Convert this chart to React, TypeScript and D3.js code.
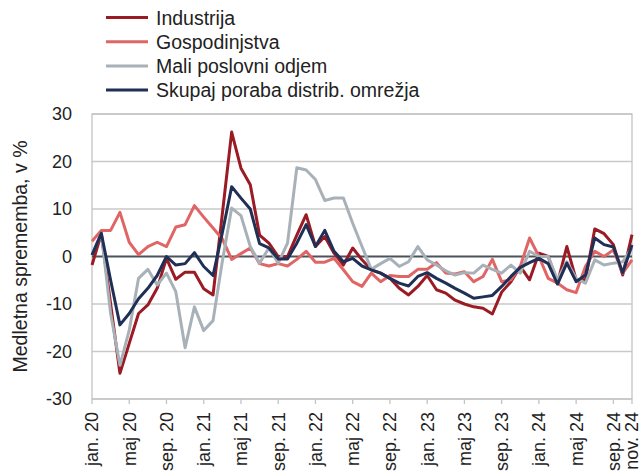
import React from 'react';
import * as d3 from 'd3';

// categories: monthly, jan 2020 .. nov 2024
const monthNames = ['jan.', 'feb.', 'mar.', 'apr.', 'maj', 'jun.', 'jul.', 'avg.', 'sep.', 'okt.', 'nov.', 'dec.'];
const years = ['20', '21', '22', '23', '24'];
const categories = years
  .flatMap(y => monthNames.map(m => `${m} ${y}`))
  .slice(0, 59);

const yTicks = [-30, -20, -10, 0, 10, 20, 30];

const seriesNames = ['Industrija', 'Gospodinjstva', 'Mali poslovni odjem', 'Skupaj poraba distrib. omrežja'];

const industrija = [
  -1.8, 4.8, -10, -24.6, -18.3, -12, -10.2, -6.7, -0.4, -4.8,
  -3.3, -3.3, -6.8, -8.1, 9, 26.2, 18.6, 15.1, 4.5, 2.8,
  0, 0, 4.5, 8.8, 2.1, 4.2, 0.7, -1.8, 1.8, -0.7,
  -2.8, -3.5, -4.6, -6.7, -8.1, -6.3, -4.0, -7.0, -7.7, -9.2,
  -10.0, -10.6, -10.9, -12.1, -7.5, -5.3, -2.1, -4.9, 0.7, 0,
  -5.6, 2.1, -4.9, -4.9, 5.8, 4.8, 2.5, -3.9, 4.6,
];

const gospodinjstva = [
  3.2, 5.5, 5.5, 9.3, 3.0, 0.4, 2.1, 3.0, 2.1, 6.2,
  6.7, 10.7, 8.3, 6.0, 3.7, -0.6, 0.6, 1.8, -1.5, -2.0,
  -1.5, -2.0, -0.6, 1.1, -1.2, -1.2, -0.4, -2.8, -5.3, -6.3,
  -3.5, -5.3, -4.0, -4.2, -4.2, -2.7, -2.7, -1.3, -3.5, -3.7,
  -3.2, -5.3, -4.2, -0.6, -5.3, -4.9, -2.1, 3.9, 0, -4.6,
  -5.6, -7.0, -7.6, -2.1, 1.1, 0, 1.4, -3.5, -0.7,
];

const maliPoslovni = [
  0.5, 4.9, -12, -22.9, -15.5, -4.6, -2.7, -6.0, -3.5, -7.4,
  -19.2, -10.6, -15.6, -13.5, -1, 10.2, 8.6, 2.1, -1.4, 1.8,
  -1.4, 2.8, 18.7, 18.2, 16.2, 11.8, 12.3, 12.3, 7.0, 2.1,
  -2.7, -1.5, -0.4, -2.1, -1.1, 2.1, -0.7, -1.8, -3.0, -3.9,
  -3.4, -3.5, -1.8, -2.7, -3.5, -1.8, -3.5, 1.1, 0, 0,
  -4.9, -1.1, -4.6, -5.6, -0.7, -1.8, -1.4, -1.1, 1.8,
];

const skupaj = [
  0.3, 4.9, -5, -14.4, -12.0, -8.9, -6.7, -4.0, 0, -1.8,
  -1.5, 0.8, -2.1, -4.0, 5, 14.7, 12.3, 10, 2.7, 1.8,
  -0.5, -0.5, 2.8, 6.7, 2.1, 5.5, 1.1, -1.1, -0.4, -2.0,
  -2.8, -3.5, -4.6, -5.6, -6.2, -4.2, -3.4, -4.6, -5.6, -6.7,
  -7.7, -8.8, -8.5, -8.2, -6.3, -4.2, -2.3, -1.3, -0.4, -1.5,
  -5.8, -1.4, -5.3, -3.9, 3.9, 2.5, 2.0, -3.4, 2.4,
];

const seriesValues = [industrija, gospodinjstva, maliPoslovni, skupaj];
const seriesColors = ['#9b1b25', '#e06565', '#a9b1b8', '#1f2f56'];

const FONT = '"Liberation Sans", Arial, sans-serif';

class App extends React.Component {
  constructor(props) {
    super(props);

    this.width = 641;
    this.height = 476;
    this.margin = {top: 114, right: 9, bottom: 77, left: 92};

    this.w = this.width - (this.margin.left + this.margin.right);
    this.h = this.height - (this.margin.top + this.margin.bottom);

    this.xScale = d3.scaleLinear().domain([0, categories.length - 1]).range([0, this.w]);
    this.yScale = d3.scaleLinear().domain([-30, 30]).range([this.h, 0]);
  }

  componentDidMount() {
    this.createChart();
  }

  createChart() {
    const { w, h, xScale, yScale, margin } = this;

    const svg = d3.select(this.node);
    svg.selectAll('*').remove();

    const main = svg.append('g')
      .attr('transform', `translate(${margin.left}, ${margin.top})`);

    // grid
    main.append('g')
      .selectAll('line')
      .data(yTicks.filter(d => d !== 0))
      .enter().append('line')
      .attr('x1', 0)
      .attr('x2', w)
      .attr('y1', d => yScale(d))
      .attr('y2', d => yScale(d))
      .attr('stroke', '#c9c9c9')
      .attr('stroke-width', 1.3);

    // plot border
    main.append('rect')
      .attr('width', w)
      .attr('height', h)
      .attr('fill', 'none')
      .attr('stroke', '#c4c4c4')
      .attr('stroke-width', 1.3);

    // y labels
    main.append('g')
      .selectAll('text')
      .data(yTicks)
      .enter().append('text')
      .attr('x', -20)
      .attr('y', d => yScale(d))
      .attr('dy', '0.36em')
      .attr('text-anchor', 'end')
      .attr('font-family', FONT)
      .attr('font-size', 18)
      .attr('fill', '#222')
      .text(d => d);

    // x ticks + labels
    const tickIdx = categories.map((c, i) => i).filter(i => i % 4 === 0 || i === categories.length - 1);

    main.append('g')
      .selectAll('line')
      .data(tickIdx)
      .enter().append('line')
      .attr('x1', d => xScale(d))
      .attr('x2', d => xScale(d))
      .attr('y1', h)
      .attr('y2', h + 5)
      .attr('stroke', '#c4c4c4')
      .attr('stroke-width', 1.3);

    main.append('g')
      .selectAll('text')
      .data(tickIdx)
      .enter().append('text')
      .attr('transform', d => `translate(${xScale(d)}, ${h + 13}) rotate(-90)`)
      .attr('dy', '0.36em')
      .attr('text-anchor', 'end')
      .attr('font-family', FONT)
      .attr('font-size', 18)
      .attr('fill', '#222')
      .text(d => categories[d]);

    // zero line
    main.append('line')
      .attr('x1', 0)
      .attr('x2', w)
      .attr('y1', yScale(0))
      .attr('y2', yScale(0))
      .attr('stroke', '#4b535b')
      .attr('stroke-width', 2);

    // series
    const line = d3.line()
      .x((d, i) => xScale(i))
      .y(d => yScale(d));

    seriesValues.forEach((vals, k) => {
      main.append('path')
        .datum(vals)
        .attr('d', line)
        .attr('fill', 'none')
        .attr('stroke', seriesColors[k])
        .attr('stroke-width', 3)
        .attr('stroke-linejoin', 'round');
    });

    // y title
    svg.append('text')
      .attr('transform', `translate(20, ${margin.top + h / 2}) rotate(-90)`)
      .attr('dy', '0.36em')
      .attr('text-anchor', 'middle')
      .attr('font-family', FONT)
      .attr('font-size', 19.5)
      .attr('fill', '#222')
      .text('Medletna sprememba, v %');

    // legend
    const legend = svg.append('g');
    seriesNames.forEach((name, k) => {
      const y = 17.5 + k * 24.2;
      legend.append('line')
        .attr('x1', 106)
        .attr('x2', 148)
        .attr('y1', y)
        .attr('y2', y)
        .attr('stroke', seriesColors[k])
        .attr('stroke-width', 3);
      legend.append('text')
        .attr('x', 156)
        .attr('y', y)
        .attr('dy', '0.36em')
        .attr('font-family', FONT)
        .attr('font-size', 19.5)
        .attr('fill', '#222')
        .text(name);
    });
  }

  render() {
    return (
      <svg
        ref={node => this.node = node}
        width={this.width}
        height={this.height}
        style={{ position: 'absolute', left: 0, top: 0, background: '#fff' }}
      />
    );
  }
}

export default App;
